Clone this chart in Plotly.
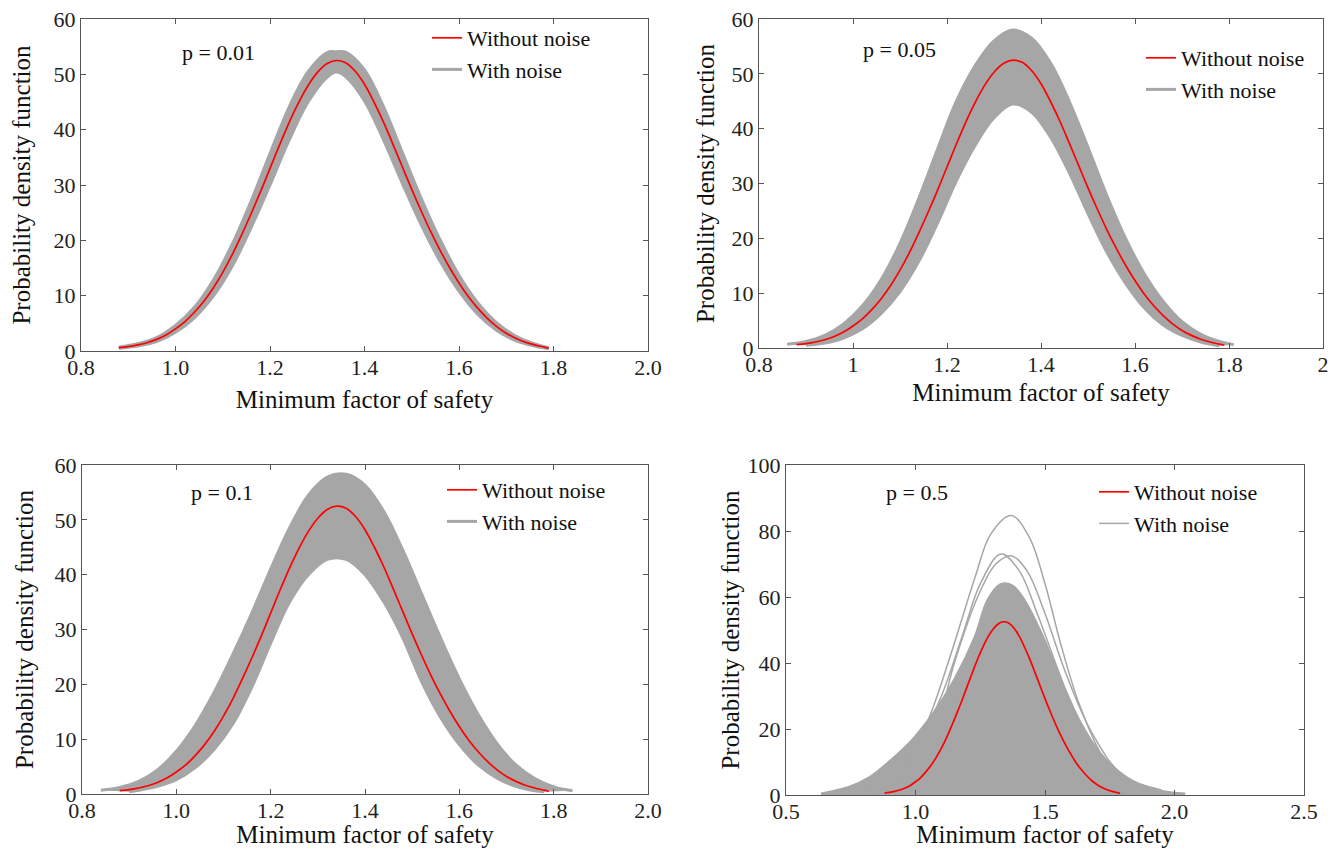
import plotly.graph_objects as go

# ---------------- data ----------------
# Deterministic PDF ("Without noise") - same curve in all four panels
red_x = [0.88, 0.90, 0.92, 0.94, 0.96, 0.98, 1.00, 1.02, 1.04, 1.06, 1.08, 1.10,
         1.12, 1.14, 1.16, 1.18, 1.20, 1.22, 1.24, 1.26, 1.28, 1.30, 1.32, 1.34,
         1.36, 1.38, 1.40, 1.42, 1.44, 1.46, 1.48, 1.50, 1.52, 1.54, 1.56, 1.58,
         1.60, 1.62, 1.64, 1.66, 1.68, 1.70, 1.72, 1.74, 1.76, 1.78, 1.79]
red_y = [0.6, 0.8, 1.1, 1.5, 2.1, 2.9, 4.0, 5.3, 7.0, 9.0, 11.4, 14.2,
         17.4, 21.0, 24.8, 28.8, 33.0, 37.2, 41.2, 44.8, 47.9, 50.3, 51.9, 52.5,
         52.1, 50.6, 48.2, 45.0, 41.4, 37.4, 33.3, 29.2, 25.3, 21.6, 18.2, 15.1,
         12.3, 9.8, 7.7, 5.9, 4.4, 3.2, 2.3, 1.6, 1.1, 0.7, 0.5]

# p = 0.01 : envelope of the noisy PDFs
p001_x = [0.88, 0.92, 0.96, 1.00, 1.04, 1.08, 1.12, 1.16, 1.20, 1.24, 1.28, 1.32, 1.34,
          1.36, 1.40, 1.44, 1.48, 1.52, 1.56, 1.60, 1.64, 1.68, 1.72, 1.76, 1.79]
p001_upper = [0.7, 1.3, 2.4, 4.6, 7.9, 12.8, 19.3, 27.1, 35.7, 44.0, 50.4, 53.9, 54.1,
              54.0, 50.8, 44.2, 35.9, 27.6, 20.1, 13.7, 8.7, 5.1, 2.7, 1.3, 0.6]
p001_lower = [0.5, 0.9, 1.7, 3.4, 6.0, 9.9, 15.3, 22.3, 30.0, 38.0, 44.9, 49.4, 50.4,
              49.6, 45.2, 38.2, 30.3, 22.8, 16.2, 10.8, 6.6, 3.7, 1.9, 0.9, 0.4]

# p = 0.05
p005_upper_x = [0.86, 0.90, 0.94, 0.98, 1.02, 1.06, 1.10, 1.14, 1.18, 1.22, 1.26, 1.30, 1.34,
                1.38, 1.42, 1.46, 1.50, 1.54, 1.58, 1.62, 1.66, 1.70, 1.74, 1.78, 1.81]
p005_upper = [0.7, 1.2, 2.3, 4.4, 7.7, 12.5, 19.1, 27.3, 36.3, 45.0, 51.5, 56.0, 58.0,
              56.5, 52.0, 45.0, 36.6, 27.8, 20.0, 13.5, 8.5, 4.8, 2.5, 1.2, 0.6]
p005_lower_x = [0.90, 0.94, 0.98, 1.02, 1.06, 1.10, 1.14, 1.18, 1.22, 1.26, 1.30, 1.34,
                1.38, 1.42, 1.46, 1.50, 1.54, 1.58, 1.62, 1.66, 1.70, 1.74, 1.78]
p005_lower = [0.5, 0.9, 1.8, 3.5, 6.3, 10.3, 15.8, 22.8, 30.5, 37.0, 42.0, 44.5,
              43.0, 38.5, 32.0, 24.5, 17.5, 11.8, 7.3, 4.2, 2.3, 1.1, 0.4]

# p = 0.1
p01_upper_x = [0.84, 0.88, 0.92, 0.96, 1.00, 1.04, 1.08, 1.12, 1.16, 1.20, 1.24, 1.28, 1.32,
               1.36, 1.40, 1.44, 1.48, 1.52, 1.56, 1.60, 1.64, 1.68, 1.72, 1.76, 1.80, 1.84]
p01_upper = [0.7, 1.2, 2.3, 4.4, 7.8, 12.5, 18.5, 25.5, 33.0, 41.0, 48.5, 54.5, 57.8,
             58.3, 56.3, 51.5, 44.5, 36.5, 28.5, 21.0, 14.5, 9.2, 5.3, 2.8, 1.3, 0.6]
p01_lower_x = [0.90, 0.92, 0.96, 1.00, 1.04, 1.08, 1.12, 1.16, 1.20, 1.24, 1.28, 1.32,
               1.36, 1.40, 1.44, 1.48, 1.52, 1.56, 1.60, 1.64, 1.68, 1.72, 1.76, 1.78]
p01_lower = [0.4, 0.7, 1.4, 2.6, 4.8, 8.1, 12.8, 19.5, 27.5, 35.0, 40.0, 42.8,
             42.8, 40.0, 35.0, 28.5, 20.5, 14.0, 9.0, 5.3, 2.9, 1.4, 0.6, 0.4]

# p = 0.5 : dense bundle of noisy PDFs (upper envelope) + distinct outlying curves
p05_bundle_x = [0.635, 0.741, 0.822, 0.903, 0.985, 1.066, 1.147, 1.228, 1.277, 1.326,
                1.374, 1.423, 1.488, 1.553, 1.634, 1.716, 1.815, 1.912, 2.041]
p05_bundle_y = [0.5, 2.5, 5.5, 10.6, 16.7, 24.7, 34.8, 48.0, 59.1, 63.9,
                63.6, 59.0, 49.0, 36.9, 22.7, 12.6, 5.5, 2.0, 0.5]
p05_c85_x = [0.87, 0.94, 1.00, 1.07, 1.15, 1.23, 1.29, 1.37, 1.44, 1.50, 1.56, 1.63, 1.72, 1.80, 1.90]
p05_c85_y = [1.5, 5.5, 14.0, 27.0, 46.0, 66.0, 79.0, 84.7, 78.0, 64.0, 46.0, 28.0, 12.0, 5.0, 1.5]
p05_c73a_x = [0.80, 0.95, 1.02, 1.10, 1.18, 1.25, 1.33, 1.40, 1.47, 1.55, 1.65, 1.78, 1.95]
p05_c73a_y = [1.5, 9.0, 17.0, 30.0, 48.0, 64.0, 73.0, 68.0, 55.0, 38.0, 18.0, 5.0, 1.0]
p05_c73b_x = [0.85, 1.00, 1.08, 1.15, 1.24, 1.31, 1.37, 1.43, 1.50, 1.58, 1.68, 1.80, 1.95]
p05_c73b_y = [1.0, 8.0, 20.0, 40.0, 60.0, 70.0, 72.5, 68.0, 55.0, 37.0, 19.0, 6.0, 1.5]

# ---------------- styling ----------------
FONT = "Liberation Serif, Times New Roman, serif"
RED = "#ff0000"
GRAY = "#a6a6a6"
AXC = "#555555"
W, H = 1321, 840   # page body has an 8 px margin -> 1337 x 856 window

fig = go.Figure()


def band(xa, ya, lx, ly, ux, uy, leg):
    fig.add_trace(go.Scatter(x=lx, y=ly, mode="lines", name="With noise",
                             line=dict(color=GRAY, width=3, shape="spline"),
                             xaxis=xa, yaxis=ya, legend=leg, legendrank=200,
                             hoverinfo="skip"))
    fig.add_trace(go.Scatter(x=ux, y=uy, mode="lines", fill="tonexty", fillcolor=GRAY,
                             line=dict(color=GRAY, width=3, shape="spline"),
                             xaxis=xa, yaxis=ya, showlegend=False, hoverinfo="skip"))


def red(xa, ya, leg):
    fig.add_trace(go.Scatter(x=red_x, y=red_y, mode="lines", name="Without noise",
                             line=dict(color=RED, width=1.7, shape="spline"),
                             xaxis=xa, yaxis=ya, legend=leg, legendrank=100))


band("x", "y", p001_x, p001_lower, p001_x, p001_upper, "legend")
red("x", "y", "legend")
band("x2", "y2", p005_lower_x, p005_lower, p005_upper_x, p005_upper, "legend2")
red("x2", "y2", "legend2")
band("x3", "y3", p01_lower_x, p01_lower, p01_upper_x, p01_upper, "legend3")
red("x3", "y3", "legend3")

fig.add_trace(go.Scatter(x=p05_bundle_x, y=p05_bundle_y, mode="lines", fill="tozeroy",
                         fillcolor=GRAY, line=dict(color=GRAY, width=1.5, shape="spline"),
                         xaxis="x4", yaxis="y4", showlegend=False, hoverinfo="skip"))
for cx, cy, show in [(p05_c85_x, p05_c85_y, True), (p05_c73a_x, p05_c73a_y, False),
                     (p05_c73b_x, p05_c73b_y, False)]:
    fig.add_trace(go.Scatter(x=cx, y=cy, mode="lines", name="With noise",
                             line=dict(color=GRAY, width=1.5, shape="spline"),
                             xaxis="x4", yaxis="y4", legend="legend4", legendrank=200,
                             showlegend=show, hoverinfo="skip"))
red("x4", "y4", "legend4")


def px_x(p):
    return (p - 8) / W


def px_y(p):
    return 1 - (p - 8) / H


tickfont = dict(family=FONT, size=22, color="#222222")
titlefont = dict(family=FONT, size=25, color="#111111")


def xaxis(dom, anchor, rng, dtick, fmt, standoff):
    return dict(domain=[px_x(dom[0]), px_x(dom[1])], anchor=anchor, range=rng,
                dtick=dtick, tick0=rng[0], tickformat=fmt, showline=True, linecolor=AXC,
                linewidth=1, mirror="allticks", ticks="inside", ticklen=5, tickcolor=AXC,
                showgrid=False, zeroline=False, tickfont=tickfont, automargin=False,
                ticklabelstandoff=-3, ticklabeloverflow="allow",
                title=dict(text="Minimum factor of safety", font=titlefont,
                           standoff=standoff))


def yaxis(dom, anchor, rng, dtick, standoff):
    return dict(domain=[px_y(dom[1]), px_y(dom[0])], anchor=anchor, range=rng,
                dtick=dtick, showline=True, linecolor=AXC, linewidth=1, mirror="allticks",
                ticks="inside", ticklen=5, tickcolor=AXC, showgrid=False, zeroline=False,
                tickfont=tickfont, automargin=False, ticklabeloverflow="allow",
                title=dict(text="Probability density function", font=titlefont,
                           standoff=standoff))


def legend(xp, yp):
    return dict(x=px_x(xp), y=px_y(yp), xanchor="left", yanchor="top",
                bgcolor="rgba(0,0,0,0)", borderwidth=0, traceorder="normal",
                font=dict(family=FONT, size=22, color="#111111"), tracegroupgap=0)


def label(text, xp, yp):
    return dict(text=text, x=px_x(xp), y=px_y(yp), xref="paper", yref="paper",
                showarrow=False, xanchor="center", yanchor="middle",
                font=dict(family=FONT, size=22, color="#111111"))


fig.update_layout(
    width=W, height=H, margin=dict(l=0, r=0, t=0, b=0, autoexpand=False),
    paper_bgcolor="white", plot_bgcolor="white",
    xaxis=xaxis((81, 648), "y", [0.8, 2.0], 0.2, ".1f", 11),
    yaxis=yaxis((19, 351), "x", [0, 60], 10, 17),
    xaxis2=xaxis((759, 1323), "y2", [0.8, 2.0], 0.2, "", 7),
    yaxis2=yaxis((19, 348), "x2", [0, 60], 10, 9),
    xaxis3=xaxis((82, 648), "y3", [0.8, 2.0], 0.2, ".1f", 10),
    yaxis3=yaxis((465, 794), "x3", [0, 60], 10, 13),
    xaxis4=xaxis((786, 1304), "y4", [0.5, 2.5], 0.5, ".1f", 10),
    yaxis4=yaxis((465, 795), "x4", [0, 100], 20, 0),
    legend=legend(427, 17),
    legend2=legend(1141, 37),
    legend3=legend(442, 469),
    legend4=legend(1094, 471),
    annotations=[label("p = 0.01", 218, 52), label("p = 0.05", 899, 49),
                 label("p = 0.1", 222, 493), label("p = 0.5", 917, 493)],
    showlegend=True,
)

fig.write_html("out.html")
